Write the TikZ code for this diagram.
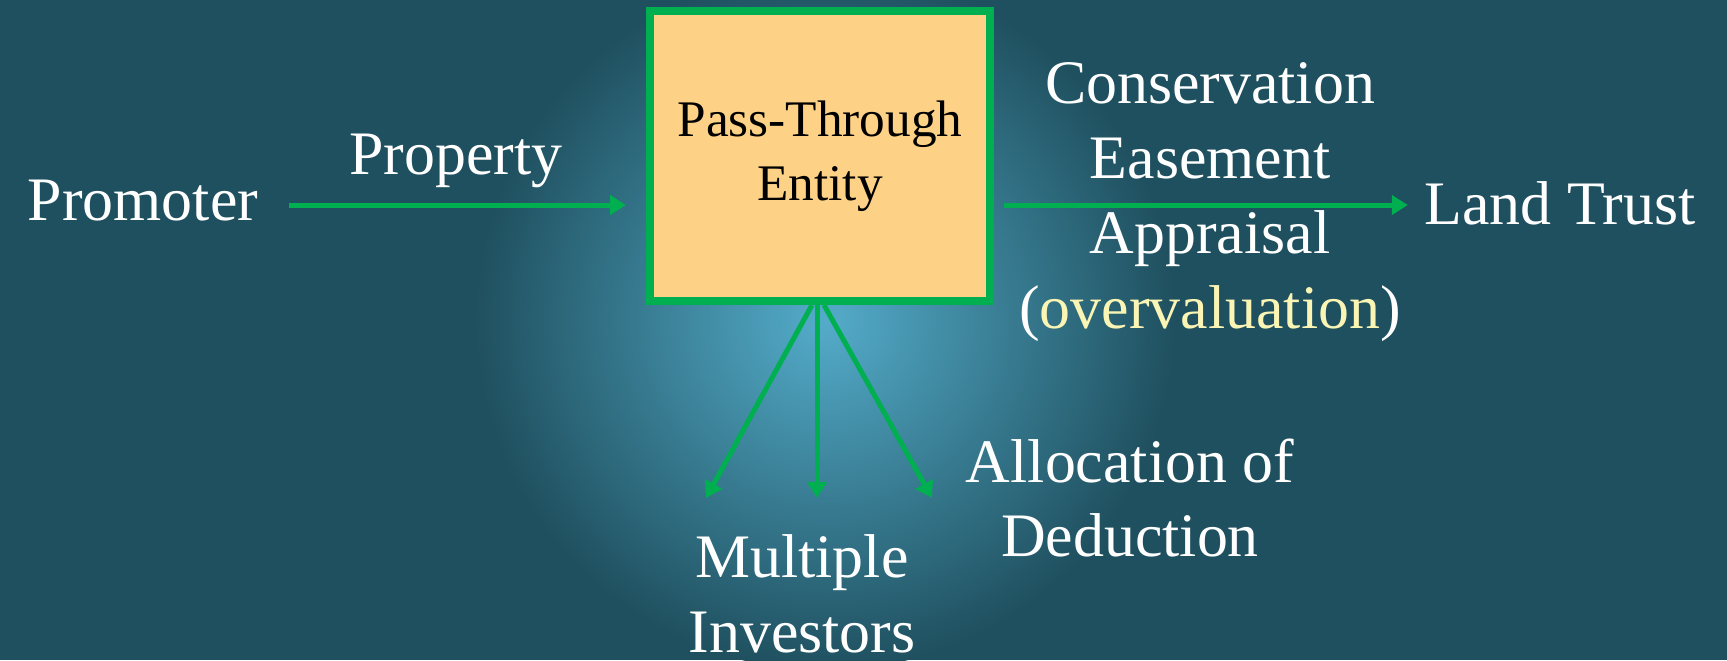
\documentclass[tikz,border=0pt]{standalone}
\usepackage{fontspec}
\setmainfont{Liberation Serif}
\usetikzlibrary{arrows.meta}
\definecolor{bgteal}{RGB}{31,80,95}
\definecolor{glowblue}{RGB}{84,172,202}
\definecolor{boxfill}{RGB}{253,210,135}
\definecolor{flowgreen}{RGB}{0,176,80}
\definecolor{paleyellow}{RGB}{250,245,180}
\pgfdeclareradialshading{glow}{\pgfpoint{0bp}{0bp}}{color(0bp)=(glowblue); color(25bp)=(bgteal); color(100bp)=(bgteal)}

\begin{document}
\begin{tikzpicture}[x=0.1mm, y=-0.1mm,
  flow/.style={draw=flowgreen, line width=0.5mm, -{Triangle[length=1.6mm,width=1.9mm]}},
  lbl/.style={text=white, font=\fontsize{17.6}{21.3}\selectfont, align=center, inner sep=0pt},
  entity/.style={draw=flowgreen, line width=0.8mm, fill=boxfill, minimum width=34mm, minimum height=29mm, align=center, font=\fontsize{14.6}{18.2}\selectfont}]
\useasboundingbox (0,0) rectangle (1727,660);
% background with a soft glow behind the entity
\fill[bgteal] (0,0) rectangle (1727,660);
\shade[shading=glow] (825,320) circle (35mm);

\node[entity] (box) at (820,156) {Pass-Through\\Entity};
\node[lbl, anchor=base] (promoter) at (143,220) {Promoter};
\node[lbl, anchor=base] (property) at (456,174) {Property};
\node[lbl, anchor=base] (trust) at (1560,224) {Land Trust};
\node[lbl] (easement) at (1210,202) {Conservation\\Easement\\Appraisal\\(\textcolor{paleyellow}{overvaluation})};
\node[lbl] (investors) at (802,594) {Multiple\\Investors};
\node[lbl] (allocation) at (1130,498) {Allocation of\\Deduction};

% horizontal flows
\coordinate (mainline) at (0,205);
\draw[flow, shorten <=3mm, shorten >=2mm] (promoter.east |- mainline) -- (box.west |- mainline);
\draw[flow, shorten <=1mm, shorten >=1.6mm] (box.east |- mainline) -- (trust.west |- mainline);

% fan out to the investors
\coordinate (fan) at (817,498);
\foreach \s/\d in {-8/-111, -3/0, 4/115}
  \draw[flow] ([xshift=\s*0.1mm]box.south) -- ([xshift=\d*0.1mm]fan);
\end{tikzpicture}
\end{document}
